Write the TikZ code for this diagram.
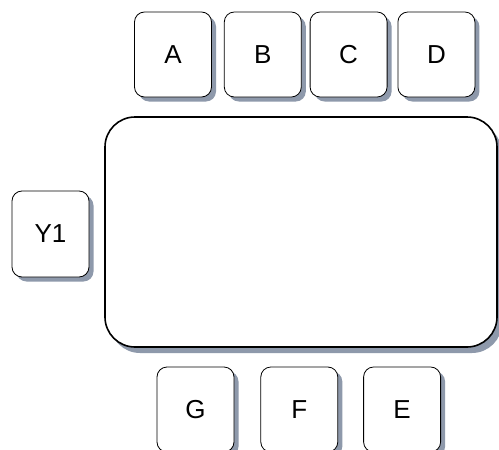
\documentclass[tikz,border=0pt]{standalone}
\usepackage{fontspec}
\setmainfont{Liberation Sans}
\usepackage{tikz}
\usetikzlibrary{shadows, positioning}
\definecolor{shadowgray}{HTML}{8E99AB}

\begin{document}
\begin{tikzpicture}[
		x=1pt, y=-1pt,
		font=\fontsize{26}{30}\selectfont,
		key/.style={draw=black, fill=white, rounded corners=10pt, line width=0.8pt,
			minimum width=77pt, minimum height=85pt, inner sep=0pt,
			drop shadow={shadow xshift=4.5pt, shadow yshift=-4.5pt, fill=shadowgray, opacity=1}},
		board/.style={draw=black, fill=white, rounded corners=30pt, line width=1.6pt,
			minimum width=392pt, minimum height=230pt, inner sep=0pt,
			drop shadow={shadow xshift=5pt, shadow yshift=-6pt, fill=shadowgray, opacity=1}}
		]

		\clip (0,0) rectangle (499,450);
		\fill[white] (0,0) rectangle (499,450);

		% top row
		\node[key] (a) at (173,54.5) {A};
		\node[key, right=12pt of a] (b) {B};
		\node[key, right=8pt of b] (c) {C};
		\node[key, right=10pt of c] (d) {D};

		% main panel and side key
		\node[board] (panel) at (301,232) {};
		\node[key, minimum height=86pt] (y1) at (50.5,234) {Y1};

		% bottom row
		\node[key] (g) at (195.5,409.5) {G};
		\node[key, right=26pt of g] (f) {F};
		\node[key, right=25pt of f] (e) {E};

	\end{tikzpicture}
\end{document}
